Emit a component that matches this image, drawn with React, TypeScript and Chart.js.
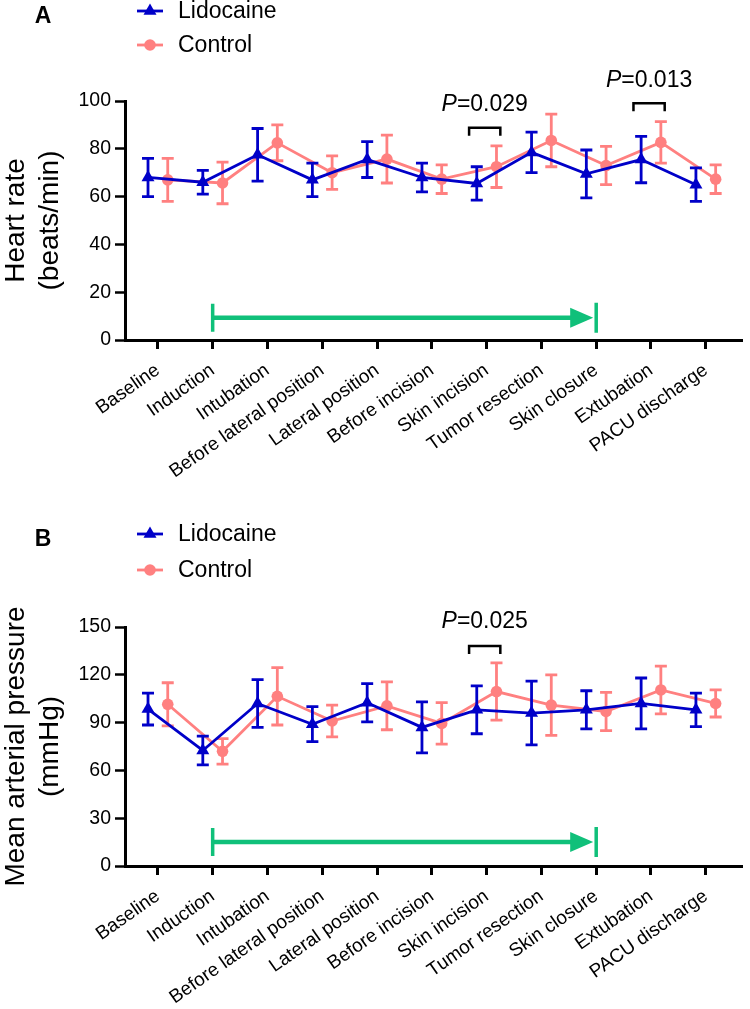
import React, { useEffect, useRef } from 'react';
import { Chart, registerables } from 'chart.js';
import { drawPoint } from 'chart.js/helpers';

Chart.register(...registerables);

const FAMILY = "Arial, 'Liberation Sans', Helvetica, sans-serif";
const BLUE = '#0000c8';
const PINK = '#ff8080';
const GREEN = '#10c07a';

const categories = [
  'Baseline', 'Induction', 'Intubation', 'Before lateral position', 'Lateral position',
  'Before incision', 'Skin incision', 'Tumor resection', 'Skin closure', 'Extubation', 'PACU discharge',
];
const seriesNames = ['Lidocaine', 'Control'];

// Panel A: heart rate (beats/min)
const hrLidoMean = [68, 66, 77.5, 67, 75.5, 68, 65.5, 78.5, 69.5, 75.5, 65];
const hrLidoSD = [8, 5, 11, 7, 7.5, 6, 7, 8.5, 10, 9.7, 7];
const hrCtrlMean = [67, 65.7, 82.5, 70, 75.7, 67.3, 72.5, 83.5, 73, 82.7, 67.3];
const hrCtrlSD = [9, 8.7, 7.5, 7, 10, 6, 8.7, 11, 8, 8.7, 6];
const hrTicks = { min: 0, max: 100, step: 20 };

// Panel B: mean arterial pressure (mmHg)
const mapLidoMean = [98.5, 72.5, 102, 89, 102.5, 87, 98, 96, 98, 102, 98];
const mapLidoSD = [10, 9, 15, 11, 12, 16, 15, 20, 12, 16, 10.5];
const mapCtrlMean = [101.5, 72, 106.5, 91, 100.5, 89.5, 109.5, 101, 97, 110.5, 102];
const mapCtrlSD = [13.5, 8, 18, 10, 15, 13, 18, 19, 12, 15, 8.5];
const mapTicks = { min: 0, max: 150, step: 30 };

// annotations
const arrowFrom = 1; // Induction
const arrowTo = 8; // Skin closure
const hrArrowY = 9.3;
const mapArrowY = 15;
const hrPvals = [
  { cat: 6, y: 88.8, textY: 98.3, label: '=0.029' },
  { cat: 9, y: 99.1, textY: 108.4, label: '=0.013' },
];
const mapPvals = [{ cat: 6, y: 138.1, textY: 153.2, label: '=0.025' }];

const OFFSET = 0.18;

const errorBarPlugin = {
  id: 'errorBars',
  beforeDatasetDraw(chart: any, args: any) {
    const ds = chart.data.datasets[args.index];
    const sd: number[] = ds.sd;
    if (!sd) return;
    const xs = chart.scales.x;
    const ys = chart.scales.y;
    const ctx = chart.ctx;
    ctx.save();
    ctx.strokeStyle = ds.borderColor;
    ctx.lineWidth = ds.errWidth;
    ds.data.forEach((p: any, i: number) => {
      const x = xs.getPixelForValue(p.x);
      const yt = ys.getPixelForValue(p.y + sd[i]);
      const yb = ys.getPixelForValue(p.y - sd[i]);
      const c = ds.capHalf;
      ctx.beginPath();
      ctx.moveTo(x, yt);
      ctx.lineTo(x, yb);
      ctx.moveTo(x - c, yt);
      ctx.lineTo(x + c, yt);
      ctx.moveTo(x - c, yb);
      ctx.lineTo(x + c, yb);
      ctx.stroke();
    });
    ctx.restore();
  },
};

const decorPlugin = {
  id: 'decor',
  afterDraw(chart: any, _args: any, opts: any) {
    const ctx = chart.ctx;
    const xs = chart.scales.x;
    const ys = chart.scales.y;
    ctx.save();
    // panel letter
    ctx.fillStyle = '#000';
    ctx.font = `bold 23px ${FAMILY}`;
    ctx.textAlign = 'center';
    ctx.textBaseline = 'middle';
    ctx.fillText(opts.letter, 43, opts.letterY);

    // legend
    chart.data.datasets.forEach((ds: any, i: number) => {
      const y = opts.legendY[i];
      ctx.strokeStyle = ds.borderColor;
      ctx.lineWidth = ds.borderWidth;
      ctx.beginPath();
      ctx.moveTo(137, y);
      ctx.lineTo(163, y);
      ctx.stroke();
      ctx.fillStyle = ds.backgroundColor;
      drawPoint(ctx, { pointStyle: ds.pointStyle, radius: ds.pointRadius, rotation: 0, borderWidth: 0 } as any, 150, y);
      ctx.fillStyle = '#000';
      ctx.font = `23px ${FAMILY}`;
      ctx.textAlign = 'left';
      ctx.textBaseline = 'middle';
      ctx.fillText(ds.label, 178, y + 1);
    });

    // green arrow
    const x0 = xs.getPixelForValue(opts.arrow.from);
    const x1 = xs.getPixelForValue(opts.arrow.to);
    const ya = ys.getPixelForValue(opts.arrow.y);
    ctx.strokeStyle = GREEN;
    ctx.fillStyle = GREEN;
    ctx.lineWidth = 4.5;
    ctx.beginPath();
    ctx.moveTo(x0, ya);
    ctx.lineTo(x1 - 22, ya);
    ctx.stroke();
    ctx.beginPath();
    ctx.moveTo(x1 - 3, ya);
    ctx.lineTo(x1 - 26, ya - 10);
    ctx.lineTo(x1 - 26, ya + 10);
    ctx.closePath();
    ctx.fill();
    ctx.lineWidth = 3.5;
    ctx.beginPath();
    ctx.moveTo(x0, ya - 14);
    ctx.lineTo(x0, ya + 14);
    ctx.moveTo(x1, ya - 15);
    ctx.lineTo(x1, ya + 15);
    ctx.stroke();

    // P-value brackets
    opts.pvals.forEach((p: any) => {
      const xl = xs.getPixelForValue(p.cat - 0.32);
      const xr = xs.getPixelForValue(p.cat + 0.25);
      const yb = ys.getPixelForValue(p.y);
      ctx.strokeStyle = '#000';
      ctx.lineWidth = 2.5;
      ctx.beginPath();
      ctx.moveTo(xl, yb + 8);
      ctx.lineTo(xl, yb);
      ctx.lineTo(xr, yb);
      ctx.lineTo(xr, yb + 8);
      ctx.stroke();
      const cx = (xl + xr) / 2;
      const ty = ys.getPixelForValue(p.textY);
      ctx.font = `italic 23px ${FAMILY}`;
      const wP = ctx.measureText('P').width;
      ctx.font = `23px ${FAMILY}`;
      const wR = ctx.measureText(p.label).width;
      const start = cx - (wP + wR) / 2;
      ctx.fillStyle = '#000';
      ctx.textAlign = 'left';
      ctx.textBaseline = 'middle';
      ctx.font = `italic 23px ${FAMILY}`;
      ctx.fillText('P', start, ty);
      ctx.font = `23px ${FAMILY}`;
      ctx.fillText(p.label, start + wP, ty);
    });
    ctx.restore();
  },
};

function makeConfig(p: any) {
  const mk = (label: string, mean: number[], sd: number[], dx: number, color: string, style: string, r: number) => ({
    label,
    data: mean.map((v, i) => ({ x: i + dx, y: v })),
    sd,
    borderColor: color,
    backgroundColor: color,
    borderWidth: 2.8,
    pointStyle: style,
    pointRadius: r,
    pointBorderWidth: 0,
    pointHoverRadius: r,
    errWidth: 2.8,
    capHalf: 6,
    tension: 0,
    clip: false,
  });
  return {
    type: 'line',
    data: {
      datasets: [
        mk(seriesNames[0], p.lidoMean, p.lidoSD, -OFFSET, BLUE, 'triangle', 7.5),
        mk(seriesNames[1], p.ctrlMean, p.ctrlSD, OFFSET, PINK, 'circle', 5.8),
      ],
    },
    options: {
      responsive: false,
      animation: false,
      events: [],
      layout: { padding: { top: p.padTop, right: 2, left: 0, bottom: 0 } },
      plugins: {
        legend: { display: false },
        tooltip: { enabled: false },
        decor: {
          letter: p.letter,
          letterY: p.letterY,
          legendY: p.legendY,
          arrow: { from: arrowFrom, to: arrowTo, y: p.arrowY },
          pvals: p.pvals,
        },
      },
      scales: {
        x: {
          type: 'linear',
          min: -0.6,
          max: 10.67,
          afterBuildTicks: (s: any) => {
            s.ticks = categories.map((_, i) => ({ value: i }));
          },
          afterFit: (s: any) => {
            s.height = p.height - p.bottom;
          },
          ticks: {
            autoSkip: false,
            minRotation: 35,
            maxRotation: 35,
            padding: 10,
            color: '#000',
            font: { size: 19, family: FAMILY },
            callback: (_v: any, i: number) => categories[i],
          },
          grid: { drawOnChartArea: false, drawTicks: true, tickLength: 9, tickWidth: 3, tickColor: '#000' },
          border: { color: '#000', width: 3 },
        },
        y: {
          min: p.ticks.min,
          max: p.ticks.max,
          afterFit: (s: any) => {
            s.width = 125;
          },
          ticks: {
            stepSize: p.ticks.step,
            padding: 4,
            color: '#000',
            font: { size: 19.5, family: FAMILY },
          },
          grid: { drawOnChartArea: false, drawTicks: true, tickLength: 10, tickWidth: 2.5, tickColor: '#000' },
          border: { color: '#000', width: 3 },
          title: {
            display: true,
            text: p.title,
            color: '#000',
            padding: { top: -1, bottom: 0 },
            font: { size: 28, family: FAMILY, lineHeight: 1.22 },
          },
        },
      },
    },
    plugins: [errorBarPlugin, decorPlugin],
  } as any;
}

const panelA = {
  letter: 'A', letterY: 17, legendY: [11, 45], height: 505, padTop: 101, bottom: 340,
  arrowY: hrArrowY, pvals: hrPvals,
  lidoMean: hrLidoMean, lidoSD: hrLidoSD, ctrlMean: hrCtrlMean, ctrlSD: hrCtrlSD,
  ticks: hrTicks, title: ['Heart rate', '(beats/min)'],
};
const panelB = {
  letter: 'B', letterY: 35, legendY: [29, 65], height: 504, padTop: 122, bottom: 361,
  arrowY: mapArrowY, pvals: mapPvals,
  lidoMean: mapLidoMean, lidoSD: mapLidoSD, ctrlMean: mapCtrlMean, ctrlSD: mapCtrlSD,
  ticks: mapTicks, title: ['Mean arterial pressure', '(mmHg)'],
};

function Panel({ cfg, top }: { cfg: any; top: number }) {
  const ref = useRef<HTMLCanvasElement>(null);
  useEffect(() => {
    if (!ref.current) return;
    const chart = new Chart(ref.current, makeConfig(cfg));
    return () => chart.destroy();
  }, [cfg]);
  return (
    <div style={{ position: 'absolute', left: 0, top, width: 750, height: cfg.height }}>
      <canvas ref={ref} width={750} height={cfg.height} style={{ display: 'block' }} />
    </div>
  );
}

export default function App() {
  useEffect(() => {
    document.body.style.margin = '0';
  }, []);
  return (
    <div style={{ position: 'relative', width: 750, height: 1009, background: '#fff' }}>
      <Panel cfg={panelA} top={0} />
      <Panel cfg={panelB} top={505} />
    </div>
  );
}
